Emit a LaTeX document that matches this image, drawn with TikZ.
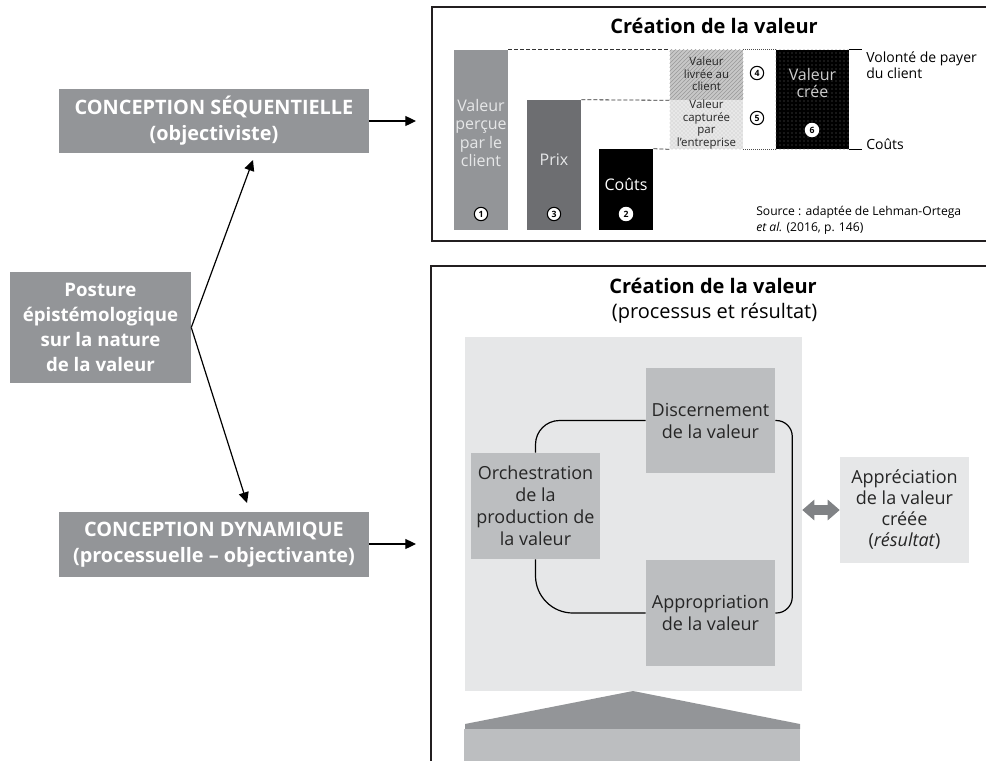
\documentclass[tikz,border=0pt]{standalone}
\usepackage{fontspec}
\setmainfont{Open Sans}
\usetikzlibrary{arrows.meta,patterns}
\definecolor{midgray}{HTML}{939598}
\definecolor{prixgray}{HTML}{6D6E71}
\definecolor{boxgray}{HTML}{BCBEC0}
\definecolor{panelgray}{HTML}{E6E7E8}
\definecolor{arrowgray}{HTML}{808285}
\definecolor{lighttext}{HTML}{E6E7E8}
\definecolor{framecol}{HTML}{231F20}
\tikzset{
  frame/.style={draw=framecol, line width=1.2pt},
  leftbox/.style={fill=midgray, text=white, align=center, inner sep=0pt,
    font=\bfseries\fontsize{14.9}{19.5}\selectfont},
  conn/.style={draw=black, line width=0.9pt, -{Triangle[length=8pt,width=7.5pt]}},
  bar/.style={rectangle, inner sep=0pt, minimum width=40.5pt},
  numc/.style={circle, draw=black, line width=0.8pt, fill=white, inner sep=0pt,
    minimum size=10pt, font=\bfseries\fontsize{6.5}{6.5}\selectfont},
  bartext/.style={text=lighttext, align=center, inner sep=0pt,
    font=\fontsize{12}{13.7}\selectfont},
  smalltext/.style={align=center, inner sep=0pt, text=black!85,
    font=\fontsize{8.6}{9.3}\selectfont},
  dashline/.style={draw=black!80, line width=0.6pt, dash pattern=on 3pt off 1.5pt},
  dotline/.style={draw=black!70, line width=0.6pt, dash pattern=on 0.6pt off 0.9pt},
  plain/.style={align=left, inner sep=0pt, font=\fontsize{10.5}{12}\selectfont},
  titlebold/.style={inner sep=0pt, font=\bfseries\fontsize{15}{16}\selectfont},
  procbox/.style={fill=boxgray, align=center, inner sep=0pt, minimum width=96.75pt,
    text=black!85, font=\fontsize{13.5}{16.5}\selectfont},
  link/.style={draw=black, line width=0.9pt},
}
\begin{document}
\begin{tikzpicture}[x=0.75pt,y=-0.75pt]
\useasboundingbox (0,0) rectangle (986,761);

% ---------- frames ----------
\draw[frame] (986,7) -- (432,7) -- (432,241) -- (986,241);
\draw[frame] (986,266) -- (431,266) -- (431,761);

% ---------- left side ----------
\node[leftbox, minimum width=232.5pt, minimum height=48pt] (seq) at (214,121)
  {CONCEPTION SÉQUENTIELLE\\(objectiviste)};
\node[leftbox, minimum width=232.5pt, minimum height=48.75pt] (dyn) at (214,544.5)
  {CONCEPTION DYNAMIQUE\\(processuelle – objectivante)};
\node[leftbox, minimum width=135.75pt, minimum height=83.25pt,
  font=\bfseries\fontsize{14}{18.75}\selectfont] (post) at (100.5,327.5)
  {Posture\\épistémologique\\sur la nature\\de la valeur};

\coordinate (seqA) at (416,121);
\coordinate (dynA) at (416,544);
\coordinate (upT) at (253,160);
\coordinate (dnT) at (247,503);
\draw[conn] (seq.east) -- (seqA);
\draw[conn] (dyn.east |- dynA) -- (dynA);
\draw[conn] (post.east) -- (upT);
\draw[conn] (post.east) -- (dnT);

% ---------- top chart ----------
\node[titlebold] (t1) at (714,26) {Création de la valeur};

\node[bar, fill=midgray, minimum height=135pt] (b1) at (481,140) {};
\node[bar, fill=prixgray, minimum height=97.5pt] (b3) at (554,165) {};
\node[bar, fill=black, minimum height=60.75pt] (b2) at (626,189.5) {};
\node[bartext] (b1t) at (481,133) {Valeur\\perçue\\par le\\client};
\node[bartext] (b3t) at (554,160) {Prix};
\node[bartext, text=white] (b2t) at (626,184) {Coûts};
\node[numc] (n1) at (481,214) {1};
\node[numc] (n3) at (554,214) {3};
\node[numc, draw=white] (n2) at (626,214) {2};

\node[rectangle, inner sep=0pt, minimum width=54.75pt, minimum height=37.5pt,
  fill=black!22] (livr) at (706.5,75) {};
\fill[pattern=north east lines, pattern color=black!40] (livr.south west) rectangle (livr.north east);
\node[smalltext] (livrt) at (706.5,74) {Valeur\\livrée au\\client};

\node[rectangle, inner sep=0pt, minimum width=54.75pt, minimum height=36.75pt,
  fill=black!9] (capt) at (706.5,124.5) {};
\fill[pattern=crosshatch dots, pattern color=black!25] (capt.south west) rectangle (capt.north east);
\node[smalltext] (captt) at (706.5,124.5) {Valeur\\capturée\\par\\l’entreprise};

\node[rectangle, inner sep=0pt, minimum width=54.75pt, minimum height=74.25pt,
  fill=black] (vc) at (812.5,99.5) {};
\fill[pattern=dots, pattern color=black!60] (vc.south west) rectangle (vc.north east);
\node[bartext, text=black!20, font=\fontsize{12}{12.75}\selectfont] (vct) at (812.5,83) {Valeur\\crée};
\node[numc, draw=white] (n6) at (812,130) {6};
\node[numc] (n4) at (757,73) {4};
\node[numc] (n5) at (757,118) {5};

\draw[dashline] (b1.north east) -- (livr.north west);
\draw[dashline] (b3.north east) -- (livr.south west);
\draw[dashline] (b2.north east) -- (capt.south west);
\draw[dotline] (livr.north east) -- (vc.north west);
\draw[dotline] (capt.south east) -- (vc.south west);
\draw[line width=0.8pt] (vc.north east) -- ++(13,0) coordinate (tk1);
\draw[line width=0.8pt] (vc.south east) -- ++(13,0) coordinate (tk2);
\node[plain, anchor=west] (vol) at (866,65) {Volonté de payer\\du client};
\node[plain, anchor=west] (cts) at (866,144) {Coûts};
\node[plain, anchor=west, font=\fontsize{9.1}{12}\selectfont] (src) at (756,220)
  {Source : adaptée de Lehman-Ortega\\\textit{et al.} (2016, p. 146)};

% ---------- bottom chart ----------
\node[titlebold] (t2) at (713,286) {Création de la valeur};
\node[inner sep=0pt, font=\fontsize{15}{16}\selectfont] (t2b) at (714.5,313) {(processus et résultat)};

\node[rectangle, inner sep=0pt, fill=panelgray, minimum width=252.75pt, minimum height=265.5pt]
  (panel) at (633.5,514) {};
\fill[midgray] (465,729) -- (465,724) -- (633,691) -- (800,724) -- (800,729) -- cycle;
\fill[boxgray] (464,729) rectangle (800,761);

\node[procbox, minimum height=78.75pt] (disc) at (710.5,420.5) {Discernement\\de la valeur};
\node[procbox, minimum height=79.5pt] (orch) at (535.5,506) {Orchestration\\de la\\production de\\la valeur};
\node[procbox, minimum height=79.5pt] (appr) at (710.5,613) {Appropriation\\de la valeur};
\node[procbox, fill=panelgray, minimum height=79.5pt, font=\fontsize{13.5}{15.75}\selectfont]
  (appre) at (904.5,510) {Appréciation\\de la valeur\\créée\\(\textit{résultat})};

\draw[link, rounded corners=18pt] (orch.north) |- (disc.west);
\draw[link, rounded corners=28pt] (orch.south) |- (appr.west);
\draw[link, rounded corners=12pt] (disc.east) -- ++(17,0) |- (appr.east);

\draw[arrowgray, line width=7pt,
  {Triangle[length=9pt,width=15pt]}-{Triangle[length=9pt,width=15pt]}]
  (panel.east |- appre.west) -- (appre.west);
\end{tikzpicture}
\end{document}
